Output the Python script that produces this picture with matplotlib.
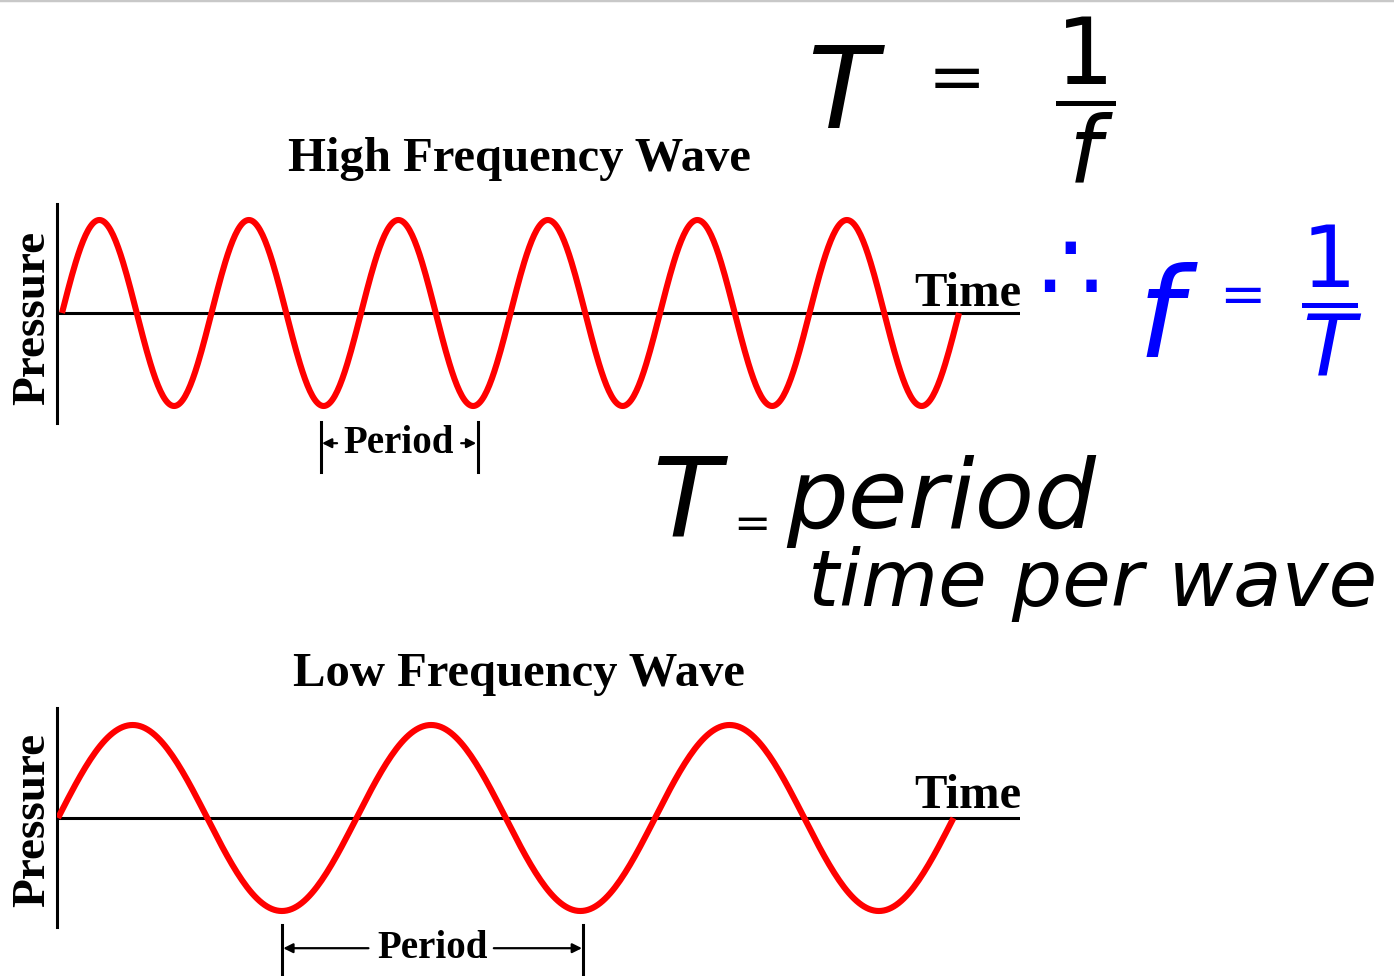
import numpy as np
import matplotlib.pyplot as plt

W, H = 1394, 976

# ---- wave data ----
high_cycles = 6          # full periods drawn in the top wave
low_cycles = 3           # full periods drawn in the bottom wave
amplitude = 1.0
samples_per_cycle = 120

titles = ["High Frequency Wave", "Low Frequency Wave"]
axis_x_label = "Time"
axis_y_label = "Pressure"
period_label = "Period"

# period markers, in cycles along each wave
high_period_marks = (1.73, 2.78)
low_period_marks = (0.75, 1.76)

handwriting_black = ["T", "=", r"$\dfrac{1}{f}$", "T", "=", "period", "time per wave"]
handwriting_blue = ["∴", "f", "=", r"$\dfrac{1}{T}$"]

RED = "#ff0000"
BLUE = "#0000ff"
SERIF = ["Liberation Serif", "DejaVu Serif"]
HAND = ["DejaVu Sans"]

plt.rcParams["mathtext.fontset"] = "dejavusans"


def px_rect(left, top, right, bottom):
    return [left / W, 1 - bottom / H, (right - left) / W, (bottom - top) / H]


fig = plt.figure(figsize=(W / 100, H / 100), dpi=100)

# overlay in pixel units for the texts
over = fig.add_axes([0, 0, 1, 1])
over.set_xlim(0, W)
over.set_ylim(H, 0)
over.set_xticks([])
over.set_yticks([])
for s in ["left", "right", "bottom"]:
    over.spines[s].set_visible(False)
over.spines["top"].set_color("#c8c8c8")
over.spines["top"].set_linewidth(2.5)
over.patch.set_alpha(0)


def wave_axes(rect, cycles, x0_px, cycle_px, base_px, amp_px, top_px, bot_px):
    ax = fig.add_axes(rect)
    ax.patch.set_alpha(0)
    left_px = rect[0] * W
    right_px = (rect[0] + rect[2]) * W
    ax.set_xlim((left_px - x0_px) / cycle_px, (right_px - x0_px) / cycle_px)
    ax.set_ylim(-(bot_px - base_px) / amp_px, (base_px - top_px) / amp_px)
    t = np.linspace(0, cycles, cycles * samples_per_cycle + 1)
    ax.plot(t, amplitude * np.sin(2 * np.pi * t), color=RED, lw=4.4,
            solid_capstyle="butt", zorder=3)
    ax.axhline(0, color="black", lw=2.2, zorder=2)
    for s in ["top", "right", "bottom"]:
        ax.spines[s].set_visible(False)
    ax.spines["left"].set_linewidth(2.2)
    ax.set_xticks([])
    ax.set_yticks([])
    return ax


ax_hi = wave_axes(px_rect(57, 204, 1020, 423), high_cycles, 62, 149.5, 313, 93, 204, 423)
ax_lo = wave_axes(px_rect(57, 708, 1020, 927), low_cycles, 58, 298.5, 818, 93, 708, 927)


def period_marker(ax, marks, y_mid, y_top, y_bot, inner, text_size):
    a, b = marks
    for xb in (a, b):
        ax.plot([xb, xb], [y_top, y_bot], color="black", lw=2.2, clip_on=False)
    mid = (a + b) / 2
    ax.text(mid, y_mid, period_label, ha="center", va="center", fontsize=text_size,
            fontweight="bold", family=SERIF, clip_on=False)
    ax.annotate("", xy=(a, y_mid), xytext=(inner[0], y_mid), annotation_clip=False,
                arrowprops=dict(arrowstyle="-|>", lw=1.6, color="black",
                                shrinkA=0, shrinkB=1, mutation_scale=14))
    ax.annotate("", xy=(b, y_mid), xytext=(inner[1], y_mid), annotation_clip=False,
                arrowprops=dict(arrowstyle="-|>", lw=1.6, color="black",
                                shrinkA=0, shrinkB=1, mutation_scale=14))


period_marker(ax_hi, high_period_marks, -1.40, -1.17, -1.71, (1.84, 2.67), 28)
period_marker(ax_lo, low_period_marks, -1.40, -1.15, -1.71, (1.04, 1.46), 28)

# titles and axis words
for txt, y in zip(titles, [171, 686]):
    over.text(519, y, txt, ha="center", va="baseline", fontsize=35,
              fontweight="bold", family=SERIF)
for y in [306, 808]:
    over.text(1021, y, axis_x_label, ha="right", va="baseline", fontsize=35,
              fontweight="bold", family=SERIF)
for y in [318, 820]:
    over.text(33, y, axis_y_label, ha="center", va="center", rotation=90,
              fontsize=34, fontweight="bold", family=SERIF)

# handwritten notes, black
over.text(842, 96, handwriting_black[0], ha="center", va="center", fontsize=82,
          style="oblique", family=HAND)
over.text(957, 80, handwriting_black[1], ha="center", va="center", fontsize=50,
          family=HAND)
over.text(1085, 100, handwriting_black[2], ha="center", va="center", fontsize=66)
over.text(686, 506, handwriting_black[3], ha="center", va="center", fontsize=80,
          style="oblique", family=HAND)
over.text(752, 526, handwriting_black[4], ha="center", va="center", fontsize=32,
          family=HAND)
over.text(786, 528, handwriting_black[5], ha="left", va="baseline", fontsize=70,
          style="oblique", family=HAND)
over.text(808, 606, handwriting_black[6], ha="left", va="baseline", fontsize=57,
          style="oblique", family=HAND)

# handwritten notes, blue
over.text(1070, 275, handwriting_blue[0], ha="center", va="center", fontsize=72,
          color=BLUE, family=HAND)
over.text(1160, 322, handwriting_blue[1], ha="center", va="center", fontsize=90,
          style="oblique", color=BLUE, family=HAND)
over.text(1242, 298, handwriting_blue[2], ha="center", va="center", fontsize=40,
          color=BLUE, family=HAND)
over.text(1332, 300, handwriting_blue[3], ha="center", va="center", fontsize=62,
          color=BLUE)

fig.savefig("out.png", dpi=100)
